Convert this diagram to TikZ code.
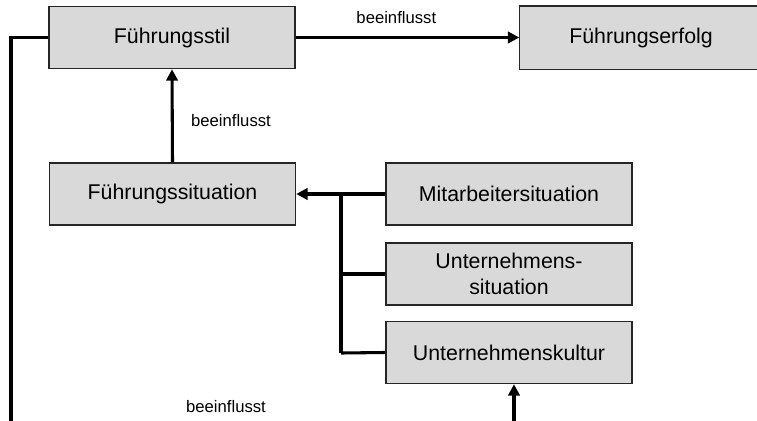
\documentclass[tikz,border=0pt]{standalone}
\usepackage{fontspec}
\setmainfont{Liberation Sans}
\usetikzlibrary{arrows.meta}
\begin{document}
\begin{tikzpicture}[x=0.75pt,y=-0.75pt,
  box/.style={draw=black!85,line width=1.1pt,fill=black!15,minimum width=184.5pt,minimum height=46.5pt,inner sep=0pt,font=\fontsize{16}{19}\selectfont,align=center},
  conn/.style={line width=2.3pt},
  arr/.style={conn,-{Triangle[length=8.5pt,width=8.5pt]}},
  lbl/.style={font=\fontsize{12.5}{14}\selectfont,inner sep=0pt}]
\useasboundingbox (0,0) rectangle (757,421);
\clip (0,0) rectangle (757,421);
\node[box] (stil) at (172,37.5) {Führungsstil};
\node[box,draw=none,minimum width=240pt] (erfolg) at (680,37.5) {};
\draw[draw=black!85,line width=1.1pt] (erfolg.north east) -- (erfolg.north west) -- (erfolg.south west) -- (erfolg.south east);
\node[font=\fontsize{16}{19}\selectfont] (erfolgtxt) at (641,37.5) {Führungserfolg};
\node[box] (sit) at (172.5,194) {Führungssituation};
\node[box] (mit) at (509,194) {Mitarbeitersituation};
\node[box] (unt) at (509,274) {Unternehmens-\\[1pt]situation};
\node[box] (kul) at (509,352.5) {Unternehmenskultur};
\coordinate (bus1) at (341,194);
\coordinate (bus2) at (341,274);
\coordinate (bus3) at (341,353);
\coordinate (leftbot) at (11,440);
\coordinate (botarr) at (514,440);
\draw[arr] (stil.east) -- (erfolg.west) node[lbl,pos=0.45,above=9pt] {beeinflusst};
\draw[arr] (sit.north) -- (stil.south) node[lbl,pos=0.45,right=13pt] {beeinflusst};
\draw[arr] (mit.west) -- (sit.east);
\draw[conn] (bus1) -- (bus3);
\draw[conn] (unt.west) -- (bus2);
\draw[conn] (kul.west) -- (bus3);
\draw[conn] (stil.west) -| (leftbot);
\draw[arr] (botarr) -- (botarr |- kul.south);
\node[lbl] (lb) at (226,407) {beeinflusst};
\end{tikzpicture}
\end{document}
